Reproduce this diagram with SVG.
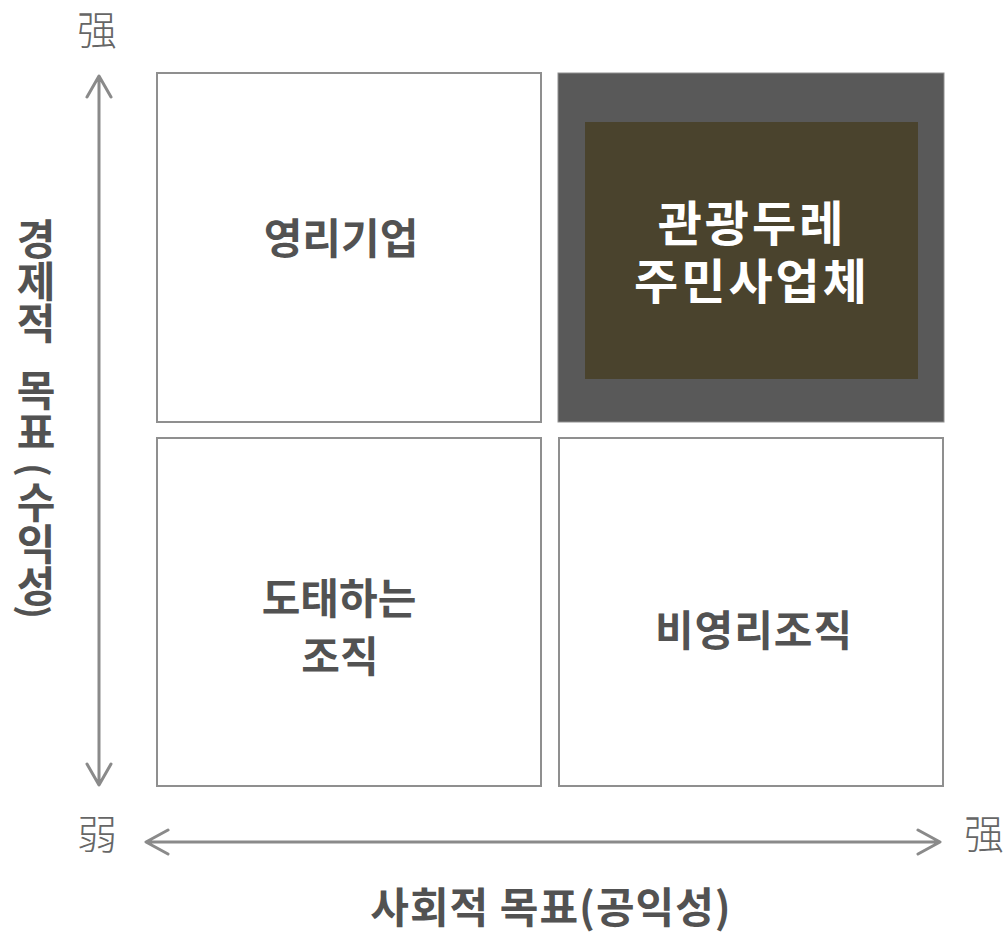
<svg xmlns="http://www.w3.org/2000/svg" width="1007" height="934" viewBox="0 0 1007 934">
<style>
.box{fill:#fff;stroke:#8f8f8f;stroke-width:2}
.lbl{font-family:"Noto Sans CJK KR","Noto Sans",sans-serif;font-weight:700;fill:#525252;text-anchor:middle;font-size:42px}
.hl{font-family:"Noto Sans CJK KR","Noto Sans",sans-serif;font-weight:700;fill:#fff;text-anchor:middle;font-size:48px;letter-spacing:3px}
.ax{fill:none;stroke:#8a8a8a;stroke-width:3;stroke-linecap:round;stroke-linejoin:round}
.hz{font-family:"Noto Sans CJK SC","Noto Sans CJK KR",sans-serif;font-weight:300;fill:#666;font-size:40px;text-anchor:middle}
.vt{writing-mode:vertical-rl;text-anchor:start}
.par{dominant-baseline:central;font-size:36px}
</style>
<rect width="1007" height="934" fill="#fff"/>
<g id="connectors">
<path class="ax" d="M99,78 V783 M87,97 L99,76 L111,97 M87,764 L99,785 L111,764"/>
<path class="ax" d="M147,842 H939 M168,830 L146,842 L168,854 M918,830 L940,842 L918,854"/>
</g>
<g id="q-profit"><rect class="box" x="157" y="73" width="384" height="349"/><text class="lbl" x="341" y="254">영리기업</text></g>
<g id="q-dure"><rect x="558" y="73" width="386" height="349" fill="#595959" stroke="#8f8f8f" stroke-width="1"/><rect x="585" y="122" width="333" height="257" fill="#4a432d"/><text class="hl" x="752" y="241">관광두레</text><text class="hl" x="752" y="299">주민사업체</text></g>
<g id="q-fail"><rect class="box" x="157" y="438" width="384" height="348"/><text class="lbl" x="339" y="614">도태하는</text><text class="lbl" x="340" y="672">조직</text></g>
<g id="q-nonprofit"><rect class="box" x="559" y="438" width="384" height="348"/><text class="lbl" x="754" y="646" letter-spacing="1">비영리조직</text></g>
<g id="labels">
<text class="hz" x="97" y="45">强</text>
<text class="hz" x="97" y="849">弱</text>
<text class="hz" x="984" y="849">强</text>
<text class="lbl" x="551" y="923" letter-spacing="1">사회적 목표(공익성)</text>
<g id="y-axis-label">
<text class="lbl vt" x="36" y="218"><tspan x="36" y="218">경제적</tspan> <tspan x="36" y="369">목표</tspan><tspan x="36" y="481">수익성</tspan></text>
<text class="lbl par" transform="translate(37,470) rotate(90)">(</text>
<text class="lbl par" transform="translate(37,612) rotate(90)">)</text>
</g>
</g>
</svg>
